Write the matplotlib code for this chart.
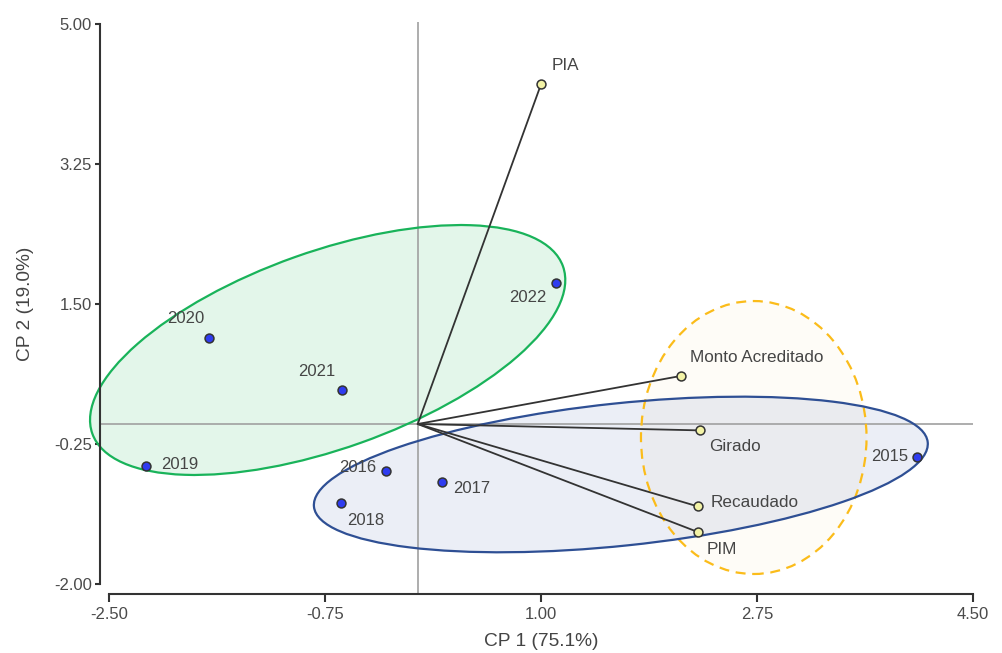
import matplotlib
matplotlib.use("Agg")
import matplotlib.pyplot as plt
from matplotlib.patches import Circle
from matplotlib.transforms import Affine2D
from matplotlib.colors import to_rgba

plt.rcParams['font.family'] = ['Liberation Sans', 'DejaVu Sans']
plt.rcParams['axes.unicode_minus'] = False

# PCA scores for each year
years = ["2015", "2016", "2017", "2018", "2019", "2020", "2021", "2022"]
year_cp1 = [4.05, -0.26, 0.20, -0.62, -2.20, -1.69, -0.61, 1.12]
year_cp2 = [-0.41, -0.59, -0.73, -0.99, -0.52, 1.08, 0.42, 1.76]

# Loadings of the budget variables
variables = ["PIA", "Monto Acreditado", "Girado", "Recaudado", "PIM"]
var_cp1 = [1.00, 2.13, 2.29, 2.27, 2.27]
var_cp2 = [4.25, 0.60, -0.08, -1.03, -1.35]

xticks = [-2.50, -0.75, 1.00, 2.75, 4.50]
yticks = [-2.00, -0.25, 1.50, 3.25, 5.00]
xlabel = "CP 1 (75.1%)"
ylabel = "CP 2 (19.0%)"

# label placement: (ha, dx, dy) in pixels
year_label_pos = {
    "2015": ("right", -9, 0),
    "2016": ("right", -9, 4),
    "2017": ("left", 11, -6),
    "2018": ("left", 6, -17),
    "2019": ("left", 15, 1),
    "2020": ("right", -5, 19),
    "2021": ("right", -7, 19),
    "2022": ("right", -9, -14),
}
var_label_pos = {
    "PIA": ("left", 10, 18),
    "Monto Acreditado": ("left", 9, 19),
    "Girado": ("left", 9, -16),
    "Recaudado": ("left", 13, 4),
    "PIM": ("left", 9, -17),
}

# group ellipses: center, two semi-axis vectors in data units, fill layer
ellipses = [
    dict(c=(2.723, -0.169), u=(0.914, 0.0), v=(0.0, 1.706),
         edge="#fbbc1a", face=to_rgba("#fbbc1a", 0.03), ls=(0, (4.5, 3)), z=0.8),
    dict(c=(1.646, -0.631), u=(2.487, 0.403), v=(0.060, -0.885),
         edge="#2e4f94", face=to_rgba("#3b5fb0", 0.10), ls="-", z=1.0),
    dict(c=(-0.730, 0.925), u=(1.907, 1.046), v=(0.268, -1.160),
         edge="#19b35a", face=to_rgba("#1db954", 0.12), ls="-", z=1.1),
]

fig = plt.figure(figsize=(10.03, 6.53), dpi=100)
ax = fig.add_axes([100 / 1003, 59 / 653, 873 / 1003, 572 / 653])
ax.set_xlim(-2.575, 4.5)
ax.set_ylim(-2.125, 5.025)

for e in ellipses:
    (cx, cy), (ux, uy), (vx, vy) = e["c"], e["u"], e["v"]
    tr = Affine2D.from_values(ux, uy, vx, vy, cx, cy) + ax.transData
    ax.add_patch(Circle((0, 0), 1, transform=tr, facecolor=e["face"],
                        edgecolor="none", zorder=e["z"], clip_on=False))
    ax.add_patch(Circle((0, 0), 1, transform=tr, facecolor="none",
                        edgecolor=e["edge"], linewidth=1.6, linestyle=e["ls"],
                        zorder=2.5, clip_on=False))

ax.axhline(0, color="#a0a0a0", linewidth=1.2, zorder=1.5)
ax.axvline(0, color="#a0a0a0", linewidth=1.2, zorder=1.5)

for x, y in zip(var_cp1, var_cp2):
    ax.plot([0, x], [0, y], color="#333333", linewidth=1.3, zorder=3,
            solid_capstyle="round")

ax.plot(var_cp1, var_cp2, linestyle="none", marker="o", markersize=6.4,
        markerfacecolor="#f3f3a6", markeredgecolor="#333333",
        markeredgewidth=1.1, zorder=4)
ax.plot(year_cp1, year_cp2, linestyle="none", marker="o", markersize=6.4,
        markerfacecolor="#2f3cf0", markeredgecolor="#333333",
        markeredgewidth=1.1, zorder=4)

for name, x, y in zip(years, year_cp1, year_cp2):
    ha, dx, dy = year_label_pos[name]
    ax.annotate(name, (x, y), xytext=(dx, dy), textcoords="offset pixels",
                ha=ha, va="center", fontsize=12, color="#454545", zorder=5)
for name, x, y in zip(variables, var_cp1, var_cp2):
    ha, dx, dy = var_label_pos[name]
    ax.annotate(name, (x, y), xytext=(dx, dy), textcoords="offset pixels",
                ha=ha, va="center", fontsize=12.3, color="#454545", zorder=5)

for side in ("top", "right"):
    ax.spines[side].set_visible(False)
for side in ("left", "bottom"):
    ax.spines[side].set_color("#333333")
    ax.spines[side].set_linewidth(1.5)
ax.spines["left"].set_bounds(yticks[0], yticks[-1])
ax.spines["bottom"].set_bounds(xticks[0], xticks[-1])

ax.set_xticks(xticks)
ax.set_xticklabels([f"{t:.2f}" for t in xticks])
ax.set_yticks(yticks)
ax.set_yticklabels([f"{t:.2f}" for t in yticks])
ax.tick_params(axis="x", length=5.5, width=1.5, color="#333333", pad=4,
               labelsize=12, labelcolor="#4a4a4a")
ax.tick_params(axis="y", length=3.8, width=1.5, color="#333333", pad=2,
               labelsize=12, labelcolor="#4a4a4a")

ax.set_xlabel(xlabel, fontsize=13.8, color="#444444")
ax.set_ylabel(ylabel, fontsize=13.8, color="#444444")
ax.xaxis.label.set_va("center")
ax.yaxis.label.set_va("center")
ax.xaxis.set_label_coords(0.505, (594 - 642) / 572)
ax.yaxis.set_label_coords((25 - 100) / 873, (594 - 304) / 572)

fig.savefig("out.png", dpi=100)
